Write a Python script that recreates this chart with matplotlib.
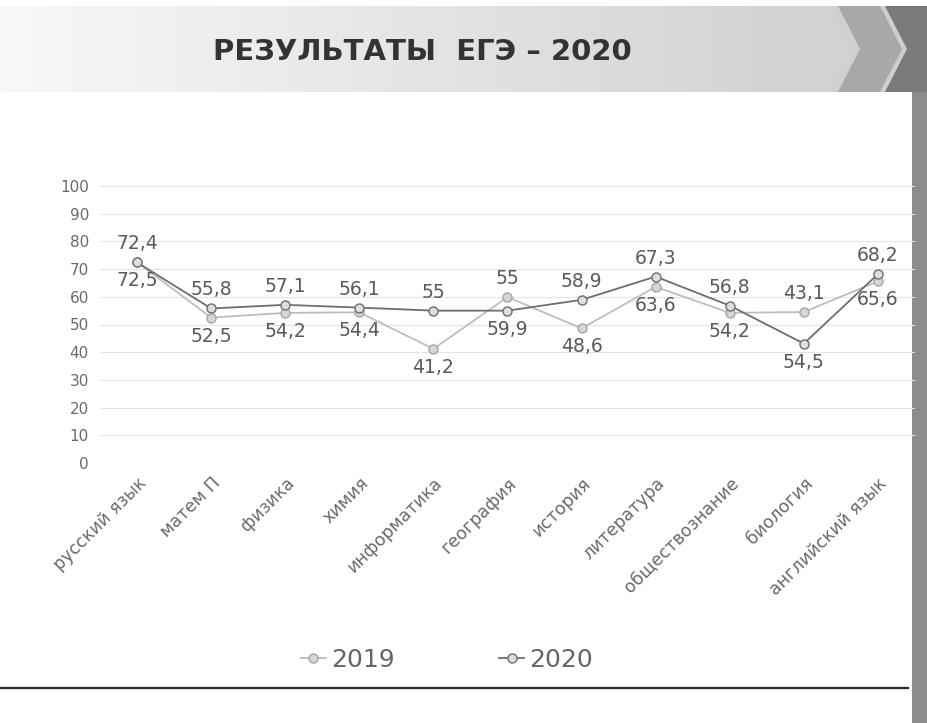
import matplotlib.pyplot as plt
import numpy as np
from matplotlib.patches import Polygon, Rectangle

# данные
subjects = ['русский язык', 'матем П', 'физика', 'химия', 'информатика', 'география',
            'история', 'литература', 'обществознание', 'биология', 'английский язык']
res_2019 = [72.5, 52.5, 54.2, 54.4, 41.2, 59.9, 48.6, 63.6, 54.2, 54.5, 65.6]
res_2020 = [72.4, 55.8, 57.1, 56.1, 55, 55, 58.9, 67.3, 56.8, 43.1, 68.2]
y_ticks = list(range(0, 101, 10))

def fmt(v):
    return ('%g' % v).replace('.', ',')

fig = plt.figure(figsize=(9.27, 7.23), dpi=100)

# фон: шапка с градиентом и стрелками
bg = fig.add_axes([0, 0, 1, 1])
bg.set_xlim(0, 927)
bg.set_ylim(723, 0)
bg.axis('off')
grad = np.linspace(0.97, 0.80, 256)[None, :]
bg.imshow(grad, cmap='gray', vmin=0, vmax=1, extent=[0, 927, 92, 6], aspect='auto')
for x0, w, c in [(790, 40, '#d2d2d2'), (838, 42, '#a8a8a8'), (885, 45, '#7a7a7a')]:
    bg.add_patch(Polygon([(x0, 6), (x0 + w, 6), (x0 + w + 22, 49), (x0 + w, 92),
                          (x0, 92), (x0 + 22, 49)], closed=True, color=c, lw=0))
bg.add_patch(Rectangle((912, 92), 15, 631, color='#8c8c8c', lw=0))
bg.plot([0, 908], [688, 688], color='#2a2a2a', lw=1.6)
bg.text(422, 52, 'РЕЗУЛЬТАТЫ  ЕГЭ – 2020', ha='center', va='center', fontsize=21,
        color='#333333', family='DejaVu Sans', weight='bold')

# график
ax = fig.add_axes([100 / 927, 1 - 463 / 723, 815 / 927, 277 / 723])
ax.patch.set_alpha(0)
x = np.arange(len(subjects))
ax.plot(x, res_2019, color='#bdbdbd', lw=1.3, marker='o', ms=6.5,
        mfc='#d6d6d6', mec='#a6a6a6', label='2019', zorder=3)
ax.plot(x, res_2020, color='#6e6e6e', lw=1.3, marker='o', ms=6.5,
        mfc='#dedede', mec='#6e6e6e', label='2020', zorder=4)

# подписи 2020 над верхней точкой, 2019 под нижней
for i in range(len(subjects)):
    hi = max(res_2019[i], res_2020[i])
    lo = min(res_2019[i], res_2020[i])
    ax.annotate(fmt(res_2020[i]), (x[i], hi), xytext=(0, 9),
                textcoords='offset pixels', ha='center', va='bottom',
                fontsize=13.5, color='#5a5a5a')
    ax.annotate(fmt(res_2019[i]), (x[i], lo), xytext=(0, -9),
                textcoords='offset pixels', ha='center', va='top',
                fontsize=13.5, color='#5a5a5a')

ax.set_xlim(-0.5, len(subjects) - 0.5)
ax.set_ylim(0, 100)
ax.set_yticks(y_ticks)
ax.set_yticklabels([str(t) for t in y_ticks], fontsize=11, color='#6a6a6a')
ax.set_xticks(x)
ax.set_xticklabels(subjects, rotation=45, ha='right', va='top', rotation_mode='anchor',
                   fontsize=12.5, color='#6a6a6a')
ax.tick_params(length=0, pad=8)
ax.grid(axis='y', color='#e4e4e4', lw=0.8)
ax.set_axisbelow(True)
for s in ax.spines.values():
    s.set_visible(False)

fig.legend(loc='center', bbox_to_anchor=(447 / 927, 1 - 660 / 723), ncol=2, frameon=False,
           fontsize=18, handlelength=1.0, handletextpad=0.2, columnspacing=4.2,
           labelcolor='#666666')

fig.savefig('out.png', dpi=100)
